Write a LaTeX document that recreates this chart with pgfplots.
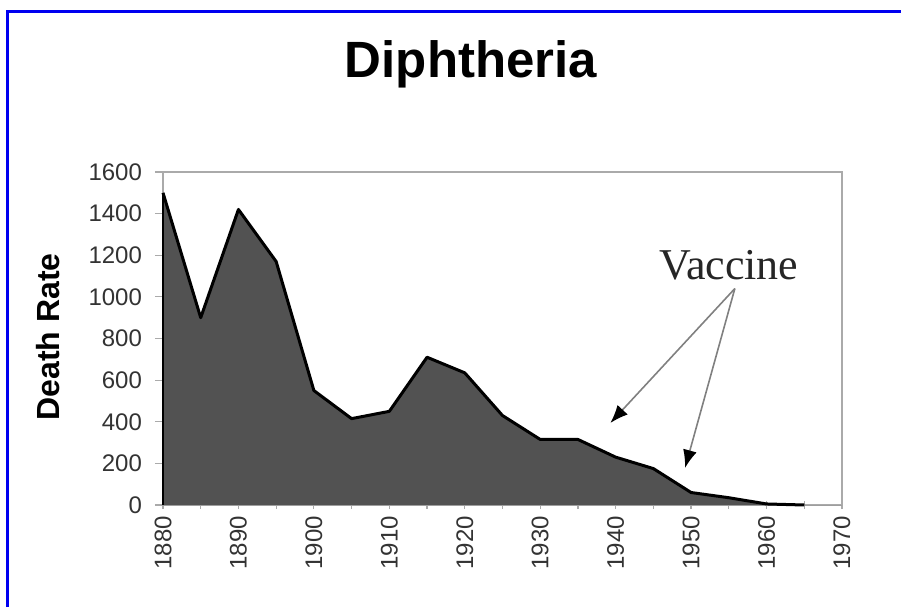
\documentclass[border=0pt]{standalone}
\usepackage{fontspec}
\setmainfont{Liberation Sans}
\newfontfamily\serifv{Liberation Serif}
\usepackage{pgfplots}
\pgfplotsset{compat=1.18}
\usetikzlibrary{arrows.meta}
\definecolor{areagray}{RGB}{82,82,82}
\definecolor{framegray}{RGB}{170,170,170}
\definecolor{borderblue}{RGB}{0,0,240}
\begin{document}
\begin{tikzpicture}
% canvas: 1px = 0.5pt, axis box lower-left at origin
\path[use as bounding box] (-81.5pt,-51pt) rectangle (369pt,252.5pt);
\draw[borderblue, line width=1.5pt] (-77.5pt,-51pt) -- (-77.5pt,247pt) -- (369pt,247pt);
\node[anchor=base, font=\fontsize{25.5}{28}\selectfont\bfseries] at (154pt,214pt) {Diphtheria};
\node[rotate=90, font=\fontsize{16}{18}\selectfont\bfseries] at (-57.5pt,84pt) {Death Rate};
\begin{axis}[
    at={(0,0)}, anchor=south west,
    scale only axis,
    width=339.5pt, height=166.5pt,
    xmin=1880, xmax=1970, ymin=0, ymax=1600,
    enlargelimits=false,
    clip=false,
    axis line style={framegray, line width=0.8pt},
    xtick={1880,1890,...,1970},
    minor xtick={1885,1895,...,1965},
    ytick={0,200,...,1600},
    tick style={framegray, line width=0.6pt},
    major tick length=4pt, minor tick length=4pt,
    xtick align=center, ytick align=outside,
    xtick pos=bottom, ytick pos=left,
    /pgf/number format/1000 sep={},
    /pgf/number format/assume math mode=true,
    ticklabel style={font=\fontsize{12}{14}\selectfont, text=black!80},
    xticklabel style={rotate=90, anchor=east},
    yticklabel style={xshift=-3pt},
]
\addplot[fill=areagray, draw=none] coordinates {
    (1880,1500) (1885,900) (1890,1420) (1895,1170) (1900,550) (1905,415)
    (1910,450) (1915,710) (1920,635) (1925,430) (1930,315) (1935,315)
    (1940,230) (1945,175) (1950,60) (1955,35) (1960,5) (1965,0) (1970,0)
} \closedcycle;
\addplot[black, line width=1.5pt, line join=round] coordinates {
    (1880,1500) (1885,900) (1890,1420) (1895,1170) (1900,550) (1905,415)
    (1910,450) (1915,710) (1920,635) (1925,430) (1930,315) (1935,315)
    (1940,230) (1945,175) (1950,60) (1955,35) (1960,5) (1965,0)
};
\draw[black, line width=1.2pt] (axis cs:1880,0) -- (axis cs:1880,1500);
\node[font=\serifv\fontsize{22}{24}\selectfont, text=black!85] at (axis cs:1955,1150) {Vaccine};
\draw[gray, line width=0.8pt, -{Latex[black, length=9pt, width=7pt]}]
    (axis cs:1955.8,1040) -- (axis cs:1939.3,394);
\draw[gray, line width=0.8pt, -{Latex[black, length=9pt, width=7pt]}]
    (axis cs:1955.8,1040) -- (axis cs:1949.2,178);
\end{axis}
\end{tikzpicture}
\end{document}
